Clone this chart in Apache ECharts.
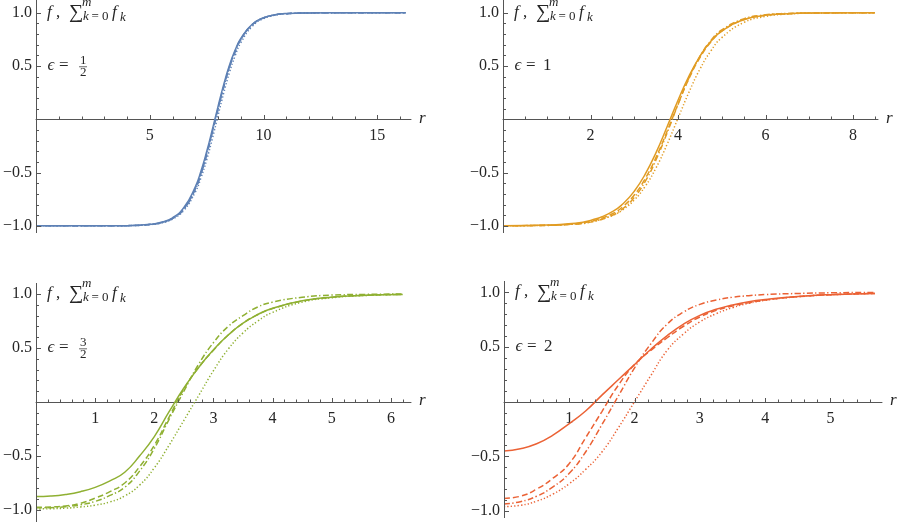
<!DOCTYPE html>
<html>
<head>
<meta charset="utf-8">
<script src="https://cdn.jsdelivr.net/npm/echarts@6/dist/echarts.min.js"></script>
<style>
  html, body { margin: 0; padding: 0; background: #fff; }
  #chart { width: 897px; height: 522px; }
</style>
</head>
<body>
<div id="chart"></div>
<script>
  // ---- data ----
  // panel 1, epsilon = 1/2
  const r1 = [0, 2, 4, 5, 5.5, 6, 6.5, 7, 7.25, 7.5, 7.75, 8, 8.25, 8.5, 8.75, 9, 9.5, 10, 10.5, 11, 12, 14, 16.25]
  const solid1 = [-1, -1, -0.998, -0.986, -0.967, -0.924, -0.828, -0.634, -0.486, -0.303, -0.095, 0.121, 0.327, 0.506, 0.649, 0.758, 0.891, 0.953, 0.98, 0.992, 0.998, 1, 1]
  const dashed1 = [-1, -1, -0.998, -0.987, -0.969, -0.929, -0.838, -0.652, -0.507, -0.326, -0.118, 0.1, 0.307, 0.49, 0.637, 0.749, 0.887, 0.951, 0.979, 0.991, 0.998, 1, 1]
  const dotdash1 = [-1, -1, -0.998, -0.987, -0.97, -0.931, -0.842, -0.658, -0.514, -0.334, -0.126, 0.093, 0.3, 0.485, 0.633, 0.746, 0.886, 0.95, 0.979, 0.991, 0.998, 1, 1]
  const dotted1 = [-1, -1, -0.998, -0.988, -0.973, -0.936, -0.854, -0.683, -0.549, -0.38, -0.181, 0.035, 0.247, 0.438, 0.596, 0.718, 0.871, 0.944, 0.976, 0.99, 0.997, 1, 1]

  // panel 2, epsilon = 1
  const r2 = [0, 1, 1.5, 2, 2.5, 2.75, 3, 3.25, 3.5, 3.75, 4, 4.25, 4.5, 4.75, 5, 5.5, 6, 6.5, 7, 8.5]
  const solid2 = [-0.999, -0.993, -0.981, -0.949, -0.867, -0.79, -0.675, -0.515, -0.31, -0.07, 0.178, 0.405, 0.591, 0.731, 0.827, 0.933, 0.975, 0.991, 0.997, 1]
  const dashed2 = [-0.999, -0.995, -0.985, -0.958, -0.886, -0.816, -0.71, -0.557, -0.355, -0.113, 0.143, 0.382, 0.578, 0.725, 0.826, 0.934, 0.976, 0.99, 0.996, 1]
  const dotdash2 = [-1, -0.996, -0.988, -0.965, -0.9, -0.835, -0.733, -0.583, -0.378, -0.128, 0.139, 0.388, 0.589, 0.738, 0.838, 0.942, 0.98, 0.993, 0.997, 1]
  const dotted2 = [-0.999, -0.995, -0.986, -0.963, -0.903, -0.845, -0.757, -0.629, -0.454, -0.235, 0.01, 0.254, 0.47, 0.641, 0.766, 0.907, 0.965, 0.987, 0.995, 1]

  // panel 3, epsilon = 3/2
  const r3 = [0, 0.25, 0.5, 0.75, 1, 1.25, 1.5, 1.75, 2, 2.25, 2.5, 2.75, 3, 3.25, 3.5, 3.75, 4, 4.5, 5, 5.5, 6.2]
  const solid3 = [-0.876, -0.871, -0.856, -0.83, -0.79, -0.73, -0.65, -0.5, -0.32, -0.09, 0.13, 0.32, 0.485, 0.62, 0.73, 0.81, 0.868, 0.937, 0.971, 0.987, 0.996]
  const dashed3 = [-0.975, -0.972, -0.962, -0.938, -0.89, -0.83, -0.75, -0.6, -0.4, -0.14, 0.12, 0.32, 0.48, 0.62, 0.73, 0.81, 0.866, 0.935, 0.97, 0.987, 0.996]
  const dotdash3 = [-0.98, -0.978, -0.97, -0.952, -0.92, -0.865, -0.79, -0.64, -0.43, -0.16, 0.1, 0.35, 0.55, 0.7, 0.8, 0.88, 0.925, 0.97, 0.99, 0.996, 1]
  const dotted3 = [-0.99, -0.988, -0.983, -0.972, -0.955, -0.925, -0.87, -0.77, -0.61, -0.4, -0.17, 0.06, 0.29, 0.49, 0.64, 0.75, 0.83, 0.925, 0.965, 0.985, 0.996]

  // panel 4, epsilon = 2
  const r4 = [0, 0.25, 0.5, 0.75, 1, 1.25, 1.5, 1.75, 2, 2.25, 2.5, 2.75, 3, 3.25, 3.5, 3.75, 4, 4.5, 5, 5.68]
  const solid4 = [-0.45, -0.43, -0.385, -0.305, -0.2, -0.085, 0.06, 0.2, 0.34, 0.48, 0.605, 0.71, 0.79, 0.845, 0.885, 0.915, 0.935, 0.963, 0.979, 0.99]
  const dashed4 = [-0.885, -0.865, -0.8, -0.7, -0.565, -0.33, -0.09, 0.15, 0.34, 0.47, 0.585, 0.69, 0.775, 0.835, 0.875, 0.905, 0.93, 0.96, 0.978, 0.99]
  const dotdash4 = [-0.935, -0.915, -0.865, -0.78, -0.655, -0.46, -0.21, 0.05, 0.31, 0.53, 0.71, 0.82, 0.89, 0.93, 0.955, 0.97, 0.98, 0.99, 0.996, 1]
  const dotted4 = [-0.96, -0.948, -0.91, -0.845, -0.75, -0.62, -0.46, -0.24, 0, 0.24, 0.47, 0.62, 0.73, 0.805, 0.86, 0.9, 0.928, 0.96, 0.978, 0.99]

  // ticks
  const yMajor = [-1, -0.5, 0.5, 1]
  const yMinor = [-0.9, -0.8, -0.7, -0.6, -0.4, -0.3, -0.2, -0.1, 0.1, 0.2, 0.3, 0.4, 0.6, 0.7, 0.8, 0.9]
  const x1Major = [5, 10, 15]
  const x1Minor = [1, 2, 3, 4, 6, 7, 8, 9, 11, 12, 13, 14, 16]
  const x2Major = [2, 4, 6, 8]
  const x2Minor = [0.5, 1, 1.5, 2.5, 3, 3.5, 4.5, 5, 5.5, 6.5, 7, 7.5, 8.5]
  const x3Major = [1, 2, 3, 4, 5, 6]
  const x3Minor = [0.2, 0.4, 0.6, 0.8, 1.2, 1.4, 1.6, 1.8, 2.2, 2.4, 2.6, 2.8, 3.2, 3.4, 3.6, 3.8, 4.2, 4.4, 4.6, 4.8, 5.2, 5.4, 5.6, 5.8, 6.2]
  const x4Major = [1, 2, 3, 4, 5]
  const x4Minor = [0.2, 0.4, 0.6, 0.8, 1.2, 1.4, 1.6, 1.8, 2.2, 2.4, 2.6, 2.8, 3.2, 3.4, 3.6, 3.8, 4.2, 4.4, 4.6, 4.8, 5.2, 5.4, 5.6]

  // epsilon labels: [numerator, denominator] (null = plain number)
  const epsLabels = [['1', '2'], ['1', null], ['3', '2'], ['2', null]]

  const serif = '"Liberation Serif", "DejaVu Serif", serif'
  const txt = '#262626'
  const axisCol = '#555'
  const lineTypes = ['solid', [6, 3], [6, 2.4, 1.3, 2.4], [1.3, 2.1]]

  const panels = [
    {grid: {left: 33, top: 0, width: 378, height: 233}, xMax: 16.48, yMin: -1.067, yMax: 1.119,
      r: r1, ys: [solid1, dashed1, dotdash1, dotted1], color: '#5E81B5', xMajor: x1Major, xMinor: x1Minor},
    {grid: {left: 503, top: 0, width: 375, height: 233}, xMax: 8.57, yMin: -1.067, yMax: 1.119,
      r: r2, ys: [solid2, dashed2, dotdash2, dotted2], color: '#E19C24', xMajor: x2Major, xMinor: x2Minor},
    {grid: {left: 33, top: 283, width: 378, height: 239}, xMax: 6.34, yMin: -1.111, yMax: 1.102,
      r: r3, ys: [solid3, dashed3, dotdash3, dotted3], color: '#8FB032', xMajor: x3Major, xMinor: x3Minor},
    {grid: {left: 504, top: 281, width: 378, height: 237}, xMax: 5.79, yMin: -1.064, yMax: 1.104,
      r: r4, ys: [solid4, dashed4, dotdash4, dotted4], color: '#EB6235', xMajor: x4Major, xMinor: x4Minor}
  ]

  const fmtY = function (v) {
    return (v < 0 ? '\u2212' : '') + Math.abs(v).toFixed(1)
  }

  const grid = []
  const xAxis = []
  const yAxis = []
  const series = []

  panels.forEach(function (p, i) {
    const g = p.grid
    grid.push(g)
    // the x axis sits on y = 0: lift the bottom axis by the height of the negative part
    const lift = -Math.round(g.height * (0 - p.yMin) / (p.yMax - p.yMin))
    xAxis.push({
      gridIndex: i, type: 'value', min: 0, max: p.xMax, position: 'bottom', offset: lift,
      axisLine: {show: true, onZero: false, lineStyle: {color: axisCol, width: 1}},
      axisTick: {show: false},
      axisLabel: {show: true, customValues: p.xMajor, margin: 9, fontFamily: serif, fontSize: 16, color: txt},
      splitLine: {show: false}
    })
    yAxis.push({
      gridIndex: i, type: 'value', min: p.yMin, max: p.yMax,
      axisLine: {show: false},
      axisTick: {show: false},
      axisLabel: {show: true, customValues: yMajor, margin: 4, formatter: fmtY, fontFamily: serif, fontSize: 16, color: txt},
      splitLine: {show: false}
    })
    p.ys.forEach(function (vals, k) {
      series.push({
        type: 'line', xAxisIndex: i, yAxisIndex: i,
        data: p.r.map(function (x, j) { return [x, vals[j]] }),
        showSymbol: false, smooth: 0.5, silent: true,
        lineStyle: {color: p.color, width: 1.5, type: lineTypes[k], cap: 'butt'},
        itemStyle: {color: p.color}
      })
    })
  })

  const chart = echarts.init(document.getElementById('chart'))
  chart.setOption({animation: false, grid: grid, xAxis: xAxis, yAxis: yAxis, series: series})

  // axis line, tick marks and texts, positioned through the chart's own scales
  const graphic = []
  const seg = function (x1, y1, x2, y2) {
    graphic.push({
      type: 'line', silent: true, z: 10,
      shape: {x1: x1, y1: y1, x2: x2, y2: y2},
      style: {stroke: axisCol, lineWidth: 1}
    })
  }
  const addText = function (text, x, y, size, italic) {
    graphic.push({
      type: 'text', silent: true, z: 10,
      style: {
        text: text, x: x, y: y, fill: txt,
        font: (italic ? 'italic ' : '') + size + 'px ' + serif,
        textAlign: 'left', textVerticalAlign: 'middle'
      }
    })
  }

  panels.forEach(function (p, i) {
    const g = p.grid
    const finder = {xAxisIndex: i, yAxisIndex: i}
    const px = function (x, y) { return chart.convertToPixel(finder, [x, y]) }
    const origin = px(0, 0)
    const ax = Math.round(origin[0]) + 0.5
    const ay = Math.round(origin[1]) + 0.5

    // vertical axis line over the whole plot height
    seg(ax, g.top, ax, g.top + g.height)
    // y ticks, pointing right
    yMajor.forEach(function (v) { const y = Math.round(px(0, v)[1]) + 0.5; seg(ax, y, ax + 4.5, y) })
    yMinor.forEach(function (v) { const y = Math.round(px(0, v)[1]) + 0.5; seg(ax, y, ax + 2.5, y) })
    // x ticks, pointing up
    p.xMajor.forEach(function (v) { const x = Math.round(px(v, 0)[0]) + 0.5; seg(x, ay, x, ay - 4.5) })
    p.xMinor.forEach(function (v) { const x = Math.round(px(v, 0)[0]) + 0.5; seg(x, ay, x, ay - 3) })

    // heading and epsilon label
    const x0 = origin[0]
    const y1 = px(0, 1)[1] - 0.5
    addText('f', x0 + 11, y1, 17, true)
    addText(',', x0 + 20, y1, 17, false)
    addText('\u2211', x0 + 33, y1 + 0.5, 20, false)
    addText('m', x0 + 46, y1 - 9.5, 13, true)
    addText('k', x0 + 47, y1 + 4.5, 13, true)
    addText('=', x0 + 55.5, y1 + 4.5, 13, false)
    addText('0', x0 + 66, y1 + 4.5, 13, false)
    addText('f', x0 + 76, y1, 17, true)
    addText('k', x0 + 84, y1 + 5, 13, true)

    const y2 = px(0, 0.5)[1] - 0.5
    const eps = epsLabels[i]
    addText('\u03f5', x0 + 11.5, y2, 17, true)
    addText('=', x0 + 23, y2, 17, false)
    if (eps[1] === null) {
      addText(eps[0], x0 + 40, y2, 17, false)
    } else {
      addText(eps[0], x0 + 44, y2 - 5, 13, false)
      addText(eps[1], x0 + 44, y2 + 7.5, 13, false)
      graphic.push({
        type: 'line', silent: true, z: 10,
        shape: {x1: x0 + 43, y1: y2 + 1.3, x2: x0 + 51, y2: y2 + 1.3},
        style: {stroke: txt, lineWidth: 0.7}
      })
    }
    // axis name at the right end of the x axis
    addText('r', px(p.xMax, 0)[0] + 8, origin[1] - 1, 17, true)
  })

  chart.setOption({graphic: graphic})
</script>
</body>
</html>
